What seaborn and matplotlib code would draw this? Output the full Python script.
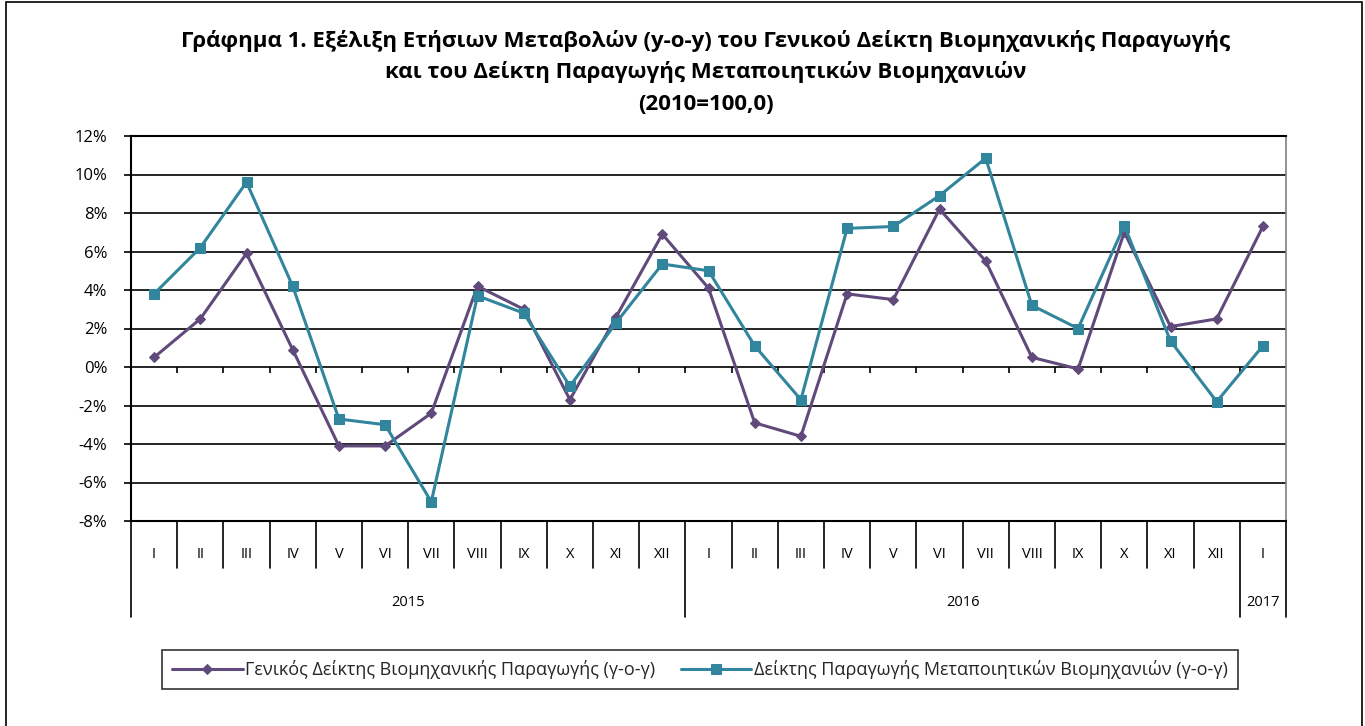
import numpy as np
import pandas as pd
import matplotlib
matplotlib.use("Agg")
import matplotlib.pyplot as plt
import matplotlib.transforms as mtransforms
from matplotlib.patches import Rectangle
import seaborn as sns

# ---------------- data ----------------
months = ["I", "II", "III", "IV", "V", "VI", "VII", "VIII", "IX", "X", "XI", "XII",
          "I", "II", "III", "IV", "V", "VI", "VII", "VIII", "IX", "X", "XI", "XII",
          "I"]
years = ["2015", "2016", "2017"]
year_counts = [12, 12, 1]

general_index = [0.5, 2.5, 5.9, 0.9, -4.1, -4.1, -2.4, 4.2, 3.0, -1.7, 2.6, 6.9,
                 4.1, -2.9, -3.6, 3.8, 3.5, 8.2, 5.5, 0.5, -0.1, 7.0, 2.1, 2.5,
                 7.3]
manufacturing_index = [3.8, 6.2, 9.6, 4.2, -2.7, -3.0, -7.0, 3.7, 2.8, -1.0, 2.3, 5.35,
                       5.0, 1.1, -1.7, 7.2, 7.3, 8.9, 10.85, 3.2, 2.0, 7.35, 1.35, -1.8,
                       1.1]

label_general = "Γενικός Δείκτης Βιομηχανικής Παραγωγής (γ-ο-γ)"
label_manuf = "Δείκτης Παραγωγής Μεταποιητικών Βιομηχανιών (γ-ο-γ)"
title_lines = [
    "Γράφημα 1. Εξέλιξη Ετήσιων Μεταβολών (y-o-y) του Γενικού Δείκτη Βιομηχανικής Παραγωγής",
    "και του Δείκτη Παραγωγής Μεταποιητικών Βιομηχανιών",
    "(2010=100,0)",
]
yticks = list(range(-8, 13, 2))

# ---------------- style ----------------
sns.set_style("white")
plt.rcParams["font.family"] = ["Open Sans", "DejaVu Sans"]

PURPLE = "#604A7B"
TEAL = "#31859C"

W, H = 1365, 726
fig = plt.figure(figsize=(W / 100, H / 100), dpi=100)

def fx(px):
    return px / W

def fy(py):
    return 1 - py / H

# outer frame
fig.patches.append(Rectangle((fx(6), fy(740)), fx(1362) - fx(6), fy(2) - fy(740),
                             transform=fig.transFigure, fill=False,
                             edgecolor="black", lw=1.2))

L, R, T, B = 131, 1286, 136, 521
ax = fig.add_axes([fx(L), fy(B), fx(R) - fx(L), fy(T) - fy(B)])

df = pd.DataFrame({
    "idx": np.arange(len(months)),
    "general": general_index,
    "manuf": manufacturing_index,
})

sns.lineplot(data=df, x="idx", y="general", ax=ax, color=PURPLE, lw=2.2,
             marker="D", markersize=5.5, markeredgecolor=PURPLE,
             markerfacecolor=PURPLE, label=label_general, zorder=4)
sns.lineplot(data=df, x="idx", y="manuf", ax=ax, color=TEAL, lw=2.2,
             marker="s", markersize=7, markeredgecolor=TEAL,
             markerfacecolor=TEAL, label=label_manuf, zorder=5)

ax.set_xlim(-0.5, len(months) - 0.5)
ax.set_ylim(-8, 12)
ax.set_yticks(yticks)
ax.set_yticklabels([f"{v}%" for v in yticks])
ax.set_xticks([])
ax.set_xlabel("")
ax.set_ylabel("")
ax.yaxis.grid(True, color="black", lw=1.2)
ax.set_axisbelow(True)
ax.tick_params(axis="y", direction="out", length=5, width=1.2, pad=12,
               labelsize=12, colors="black", left=True)
for s in ["left", "top", "bottom"]:
    ax.spines[s].set_color("black")
    ax.spines[s].set_linewidth(1.5)
ax.spines["right"].set_color("#808080")
ax.spines["right"].set_linewidth(1.2)

# zero-line tick marks at category boundaries
bounds = np.arange(len(months) + 1) - 0.5
ax.vlines(bounds[1:-1], -0.31, 0, color="black", lw=1.2, zorder=3)

# category axis (months + years)
trans = mtransforms.blended_transform_factory(ax.transData, ax.transAxes)
h_px = B - T
month_bot = -(568 - B) / h_px
year_bot = -(617 - B) / h_px
year_edges = [-0.5]
for c in year_counts:
    year_edges.append(year_edges[-1] + c)
for b in bounds:
    bot = year_bot if b in year_edges else month_bot
    ax.plot([b, b], [0, bot], transform=trans, color="black", lw=1.2,
            clip_on=False)
for i, m in enumerate(months):
    ax.text(i, -(555 - B) / h_px, m, transform=trans, ha="center", va="center",
            fontsize=10.5, color="black")
for j, y in enumerate(years):
    cx = (year_edges[j] + year_edges[j + 1]) / 2
    ax.text(cx, -(603 - B) / h_px, y, transform=trans, ha="center",
            va="center", fontsize=10.5, color="black")

# title
for line, py in zip(title_lines, [41, 72, 104]):
    fig.text(fx(706), fy(py), line, ha="center", va="center",
             fontsize=16, fontweight="bold", color="black")

# legend
if ax.get_legend():
    ax.get_legend().remove()
handles, labels = ax.get_legend_handles_labels()
leg = fig.legend(handles, labels, loc="center", ncol=2,
                 bbox_to_anchor=(fx(700), fy(669.5)), frameon=True,
                 fancybox=False, edgecolor="black", fontsize=13,
                 handlelength=3.9, columnspacing=1.4, handletextpad=0.15,
                 borderpad=0.55)
leg.get_frame().set_linewidth(1.2)

fig.savefig("out.png", dpi=100)
